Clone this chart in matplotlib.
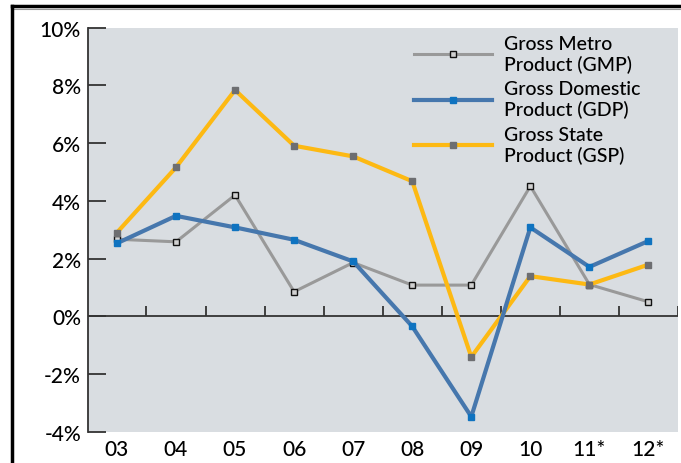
import matplotlib.pyplot as plt
import numpy as np
from matplotlib.lines import Line2D

years = ['03', '04', '05', '06', '07', '08', '09', '10', '11*', '12*']
gmp = [2.67, 2.58, 4.2, 0.85, 1.86, 1.08, 1.08, 4.51, 1.1, 0.5]
gdp = [2.53, 3.48, 3.08, 2.65, 1.9, -0.35, -3.48, 3.08, 1.71, 2.61]
gsp = [2.9, 5.16, 7.84, 5.91, 5.54, 4.68, -1.41, 1.39, 1.1, 1.79]
yticks = [-4, -2, 0, 2, 4, 6, 8, 10]

plt.rcParams['font.family'] = ['Lato', 'DejaVu Sans']
plt.rcParams['font.weight'] = 'medium'

fig = plt.figure(figsize=(6.81, 4.64), dpi=100)
ax = fig.add_axes([88 / 681, 1 - 432.7 / 464, 590 / 681, 404 / 464])
ax.set_facecolor('#d9dde1')

x = np.arange(len(years))

# lines
ax.plot(x, gmp, color='#999999', lw=2.2, marker='s', ms=4.5,
        mfc='#d0d0d0', mec='#111111', mew=1.0, zorder=3)
ax.plot(x, gsp, color='#fdb913', lw=3.0, marker='s', ms=5,
        mfc='#6d6e71', mec='#6d6e71', zorder=4)
ax.plot(x, gdp, color='#4677ad', lw=3.0, marker='s', ms=5,
        mfc='#0f73c0', mec='#0f73c0', zorder=5)

# zero line with ticks between categories
ax.axhline(0, color='#333333', lw=1.3, zorder=2)
mids = np.append(x[:-1] + 0.5, x[-1] + 0.5)
ax.vlines(mids, 0, 0.35, color='#333333', lw=1.3, zorder=2)

ax.set_xlim(-0.49, len(years) - 0.5)
ax.set_ylim(-4, 10)
ax.set_xticks(x)
ax.set_xticklabels(years, fontsize=15)
ax.tick_params(axis='x', length=0, pad=5)
ax.set_yticks(yticks)
ax.set_yticklabels([f'{v}%' for v in yticks], fontsize=15)
ax.tick_params(axis='y', direction='in', length=13, width=1.3, color='#333333', pad=5)

for s in ['top', 'right', 'bottom']:
    ax.spines[s].set_visible(False)
ax.spines['left'].set_color('#333333')
ax.spines['left'].set_linewidth(1.3)

handles = [
    Line2D([], [], color='#999999', lw=2.2, marker='s', ms=4.5, mfc='#d0d0d0', mec='#111111', mew=1.0),
    Line2D([], [], color='#4677ad', lw=3.0, marker='s', ms=5, mfc='#0f73c0', mec='#0f73c0'),
    Line2D([], [], color='#fdb913', lw=3.0, marker='s', ms=5, mfc='#6d6e71', mec='#6d6e71'),
]
labels = ['Gross Metro\nProduct (GMP)', 'Gross Domestic\nProduct (GDP)', 'Gross State\nProduct (GSP)']
ax.legend(handles, labels, loc='upper left', bbox_to_anchor=(0.523, 1.025), frameon=False,
          fontsize=14, handlelength=4.0, handletextpad=0.65, labelspacing=0.38,
          markerfirst=True)

# outer frame (top and left)
fig.add_artist(Line2D([12 / 681, 1], [1 - 7 / 464, 1 - 7 / 464], color='black', lw=2.5))
fig.add_artist(Line2D([12 / 681, 1], [1 - 9.5 / 464, 1 - 9.5 / 464], color='#999999', lw=0.8))
fig.add_artist(Line2D([12 / 681, 12 / 681], [0, 1 - 7 / 464], color='black', lw=2.5))

fig.savefig('out.png', dpi=100)
